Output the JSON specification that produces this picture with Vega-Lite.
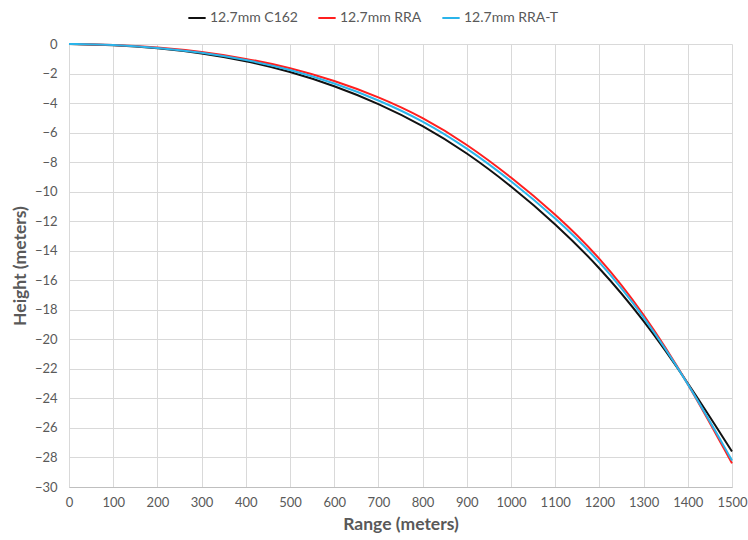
{
  "$schema": "https://vega.github.io/schema/vega-lite/v6.json",
  "autosize": {"type": "none"},
  "width": 663,
  "height": 443,
  "padding": {"left": 69, "top": 44, "right": 16, "bottom": 53},
  "background": "white",
  "config": {
    "font": "Lato",
    "view": {"stroke": null},
    "axis": {
      "labelFont": "Lato", "labelFontSize": 13, "labelColor": "#595959",
      "titleFont": "Lato", "titleFontSize": 17.5, "titleFontWeight": "bold", "titleColor": "#595959",
      "gridColor": "#d9d9d9", "gridWidth": 1, "ticks": false
    }
  },
  "data": {
    "values": [
      {"series": "12.7mm C162", "range": 0, "height": 0},
      {"series": "12.7mm C162", "range": 100, "height": -0.06},
      {"series": "12.7mm C162", "range": 200, "height": -0.26},
      {"series": "12.7mm C162", "range": 300, "height": -0.61},
      {"series": "12.7mm C162", "range": 400, "height": -1.13},
      {"series": "12.7mm C162", "range": 500, "height": -1.86},
      {"series": "12.7mm C162", "range": 600, "height": -2.82},
      {"series": "12.7mm C162", "range": 700, "height": -4.02},
      {"series": "12.7mm C162", "range": 800, "height": -5.5},
      {"series": "12.7mm C162", "range": 900, "height": -7.35},
      {"series": "12.7mm C162", "range": 1000, "height": -9.6},
      {"series": "12.7mm C162", "range": 1100, "height": -12.15},
      {"series": "12.7mm C162", "range": 1200, "height": -15.1},
      {"series": "12.7mm C162", "range": 1300, "height": -18.65},
      {"series": "12.7mm C162", "range": 1400, "height": -22.9},
      {"series": "12.7mm C162", "range": 1500, "height": -27.6},
      {"series": "12.7mm RRA", "range": 0, "height": 0},
      {"series": "12.7mm RRA", "range": 100, "height": -0.05},
      {"series": "12.7mm RRA", "range": 200, "height": -0.22},
      {"series": "12.7mm RRA", "range": 300, "height": -0.52},
      {"series": "12.7mm RRA", "range": 400, "height": -0.98},
      {"series": "12.7mm RRA", "range": 500, "height": -1.6},
      {"series": "12.7mm RRA", "range": 600, "height": -2.47},
      {"series": "12.7mm RRA", "range": 700, "height": -3.57},
      {"series": "12.7mm RRA", "range": 800, "height": -4.95},
      {"series": "12.7mm RRA", "range": 900, "height": -6.77},
      {"series": "12.7mm RRA", "range": 1000, "height": -9.0},
      {"series": "12.7mm RRA", "range": 1100, "height": -11.5},
      {"series": "12.7mm RRA", "range": 1200, "height": -14.4},
      {"series": "12.7mm RRA", "range": 1300, "height": -18.2},
      {"series": "12.7mm RRA", "range": 1400, "height": -22.9},
      {"series": "12.7mm RRA", "range": 1500, "height": -28.4},
      {"series": "12.7mm RRA-T", "range": 0, "height": 0},
      {"series": "12.7mm RRA-T", "range": 100, "height": -0.05},
      {"series": "12.7mm RRA-T", "range": 200, "height": -0.24},
      {"series": "12.7mm RRA-T", "range": 300, "height": -0.57},
      {"series": "12.7mm RRA-T", "range": 400, "height": -1.06},
      {"series": "12.7mm RRA-T", "range": 500, "height": -1.72},
      {"series": "12.7mm RRA-T", "range": 600, "height": -2.64},
      {"series": "12.7mm RRA-T", "range": 700, "height": -3.78},
      {"series": "12.7mm RRA-T", "range": 800, "height": -5.18},
      {"series": "12.7mm RRA-T", "range": 900, "height": -7.02},
      {"series": "12.7mm RRA-T", "range": 1000, "height": -9.25},
      {"series": "12.7mm RRA-T", "range": 1100, "height": -11.75},
      {"series": "12.7mm RRA-T", "range": 1200, "height": -14.65},
      {"series": "12.7mm RRA-T", "range": 1300, "height": -18.4},
      {"series": "12.7mm RRA-T", "range": 1400, "height": -22.9},
      {"series": "12.7mm RRA-T", "range": 1500, "height": -28.2}
    ]
  },
  "mark": {"type": "line", "strokeWidth": 2, "interpolate": "basis"},
  "encoding": {
    "x": {
      "field": "range", "type": "quantitative",
      "scale": {"domain": [0, 1500], "nice": false},
      "axis": {
        "title": "Range (meters)", "format": "d",
        "values": [0,100,200,300,400,500,600,700,800,900,1000,1100,1200,1300,1400,1500],
        "labelPadding": 9, "titlePadding": 6, "domainColor": "#bfbfbf", "labelFlush": false
      }
    },
    "y": {
      "field": "height", "type": "quantitative",
      "scale": {"domain": [-30, 0], "nice": false},
      "axis": {
        "title": "Height (meters)", "format": "d",
        "values": [0,-2,-4,-6,-8,-10,-12,-14,-16,-18,-20,-22,-24,-26,-28,-30],
        "labelPadding": 12, "titlePadding": 5, "domain": false, "labelFlush": false
      }
    },
    "color": {
      "field": "series", "type": "nominal",
      "scale": {"domain": ["12.7mm C162", "12.7mm RRA", "12.7mm RRA-T"], "range": ["#111111", "#ff1f1f", "#2ab4ea"]},
      "legend": {
        "title": null, "orient": "none", "direction": "horizontal",
        "legendX": 118, "legendY": -36,
        "symbolType": "stroke", "symbolStrokeWidth": 2, "symbolSize": 300,
        "labelFont": "Lato", "labelFontSize": 14, "labelColor": "#595959",
        "columnPadding": 16, "labelOffset": 3
      }
    },
    "order": {"field": "series"}
  }
}
